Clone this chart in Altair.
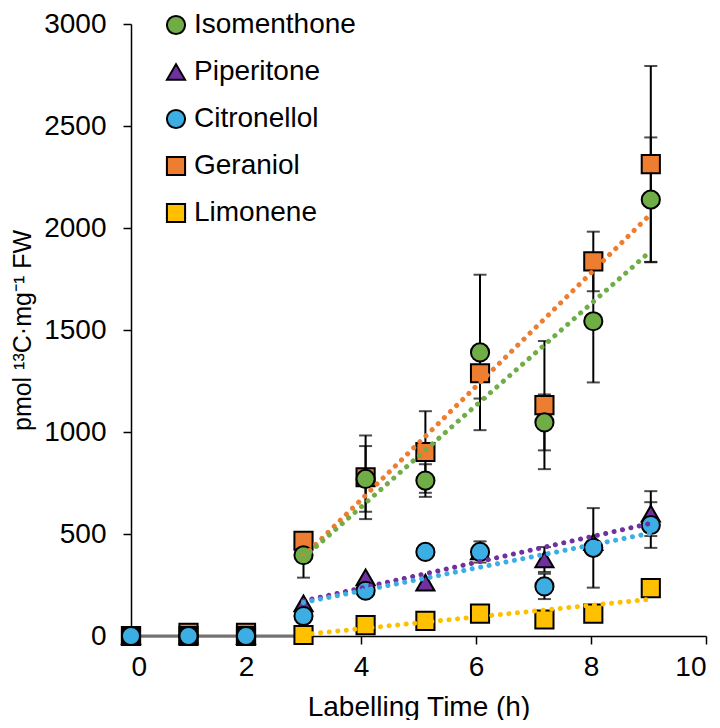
import altair as alt
import pandas as pd

# ---------------- data ----------------
times = [0, 1, 2, 3, 4.08, 5.12, 6.07, 7.19, 8.04, 9.04]
series = ["Isomenthone", "Piperitone", "Citronellol", "Geraniol", "Limonene"]
colors = ["#70AD47", "#7030A0", "#3DAEE3", "#ED7D31", "#FFC000"]
shapes = ["circle", "triangle-up", "circle", "square", "square"]

isomenthone = [0, 0, 0, 396, 770, 762, 1390, 1047, 1543, 2139]
isomenthone_err = [0, 0, 0, 110, 161, 80, 381, 137, 300, 305]
piperitone = [0, 0, 0, 160, 287, 262, 415, 375, 460, 600]
piperitone_err = [0, 0, 0, 0, 0, 0, 0, 61, 0, 110]
citronellol = [0, 0, 0, 98, 222, 412, 412, 243, 432, 544]
citronellol_err = [0, 0, 0, 0, 0, 0, 52, 62, 195, 112]
geraniol = [0, 15, 15, 467, 778, 902, 1288, 1132, 1836, 2313]
geraniol_err = [0, 0, 0, 0, 205, 200, 124, 314, 146, 481]
limonene = [0, 0, 0, 5, 53, 74, 110, 81, 110, 235]
limonene_err = [0, 0, 0, 0, 0, 0, 0, 0, 0, 0]

x_ticks = [0, 2, 4, 6, 8, 10]
y_ticks = [0, 500, 1000, 1500, 2000, 2500, 3000]

values = {
    "Isomenthone": (isomenthone, isomenthone_err),
    "Piperitone": (piperitone, piperitone_err),
    "Citronellol": (citronellol, citronellol_err),
    "Geraniol": (geraniol, geraniol_err),
    "Limonene": (limonene, limonene_err),
}

rows = []
for s in ["Geraniol", "Limonene", "Isomenthone", "Piperitone", "Citronellol"]:
    v, e = values[s]
    for t, val, err in zip(times, v, e):
        rows.append({"series": s, "time": t, "value": val, "err": err,
                     "lo": val - err, "hi": val + err})
df = pd.DataFrame(rows)

ctrl = pd.DataFrame({"time": times[:4], "value": [0] * 4})
ctrl_markers = pd.DataFrame({"time": times[:3], "value": [0] * 3})

FONT = "Liberation Sans"

x_scale = alt.Scale(domain=[0, 10], nice=False)
y_scale = alt.Scale(domain=[0, 3000], nice=False)

x_enc = alt.X("time:Q", scale=x_scale,
              axis=alt.Axis(values=x_ticks, title="Labelling Time (h)",
                            format="d", labelPadding=9, titlePadding=12,
                            titleFontSize=28))
y_enc = alt.Y("value:Q", scale=y_scale,
              axis=alt.Axis(values=y_ticks,
                            title="pmol \u00b9\u00b3C\u00b7mg\u207b\u00b9 FW",
                            format="d", labelPadding=17, titlePadding=8,
                            titleFontSize=25))

legend = alt.Legend(title=None, orient="none", legendX=31, legendY=-13,
                    padding=0, rowPadding=19, labelFontSize=28, labelFont=FONT,
                    labelOffset=4, labelLimit=400, symbolSize=330,
                    symbolStrokeColor="black", symbolStrokeWidth=2,
                    labelColor="black")

color_enc = alt.Color("series:N", scale=alt.Scale(domain=series, range=colors),
                      legend=legend)
shape_enc = alt.Shape("series:N", scale=alt.Scale(domain=series, range=shapes),
                      legend=legend)

ctrl_line = alt.Chart(ctrl).mark_line(color="#767171", strokeWidth=3).encode(
    x=x_enc, y=y_enc)

err_df = df[df["err"] > 0]
err_rule = alt.Chart(err_df).mark_rule(color="black", strokeWidth=2).encode(
    x="time:Q", y="lo:Q", y2="hi:Q")
cap_lo = alt.Chart(err_df).mark_tick(color="black", thickness=2, size=13,
                                     orient="horizontal").encode(x="time:Q", y="lo:Q")
cap_hi = alt.Chart(err_df).mark_tick(color="black", thickness=2, size=13,
                                     orient="horizontal").encode(x="time:Q", y="hi:Q")

pts_sq = alt.Chart(df[df["series"].isin(["Geraniol", "Limonene"])]).mark_point(
    filled=True, stroke="black", strokeWidth=2, size=330, opacity=1).encode(
    x="time:Q", y="value:Q", color=color_enc, shape=shape_enc)

ctrl_pts = alt.Chart(ctrl_markers).mark_point(
    filled=True, shape="square", color="black", size=330, opacity=1).encode(
    x="time:Q", y="value:Q")

pts_other = alt.Chart(df[df["series"].isin(["Isomenthone", "Piperitone", "Citronellol"])]).mark_point(
    filled=True, stroke="black", strokeWidth=2, size=330, opacity=1).encode(
    x="time:Q", y="value:Q", color=color_enc, shape=shape_enc)

trend = alt.Chart(df[df["time"] >= 3]).transform_regression(
    "time", "value", groupby=["series"], method="linear"
).mark_line(strokeWidth=5, strokeDash=[0.1, 8.5], strokeCap="round").encode(
    x="time:Q", y="value:Q",
    stroke=alt.Stroke("series:N", scale=alt.Scale(domain=series, range=colors),
                      legend=None))

chart = alt.layer(ctrl_line, err_rule, cap_lo, cap_hi, pts_sq, ctrl_pts,
                  pts_other, trend).resolve_scale(stroke="independent").properties(
    width=575, height=612,
    autosize=alt.AutoSizeParams(type="none"),
    padding={"left": 123, "top": 16, "right": 6, "bottom": 84},
).configure_view(stroke=None).configure_axis(
    grid=False, domainColor="black", domainWidth=1.5, tickColor="black",
    tickWidth=1.5, tickSize=8, labelFont=FONT, labelFontSize=28,
    labelColor="black", titleFont=FONT, titleFontWeight="normal",
    titleColor="black"
)

chart.save("out.html", embed_options={"renderer": "svg", "actions": False})
